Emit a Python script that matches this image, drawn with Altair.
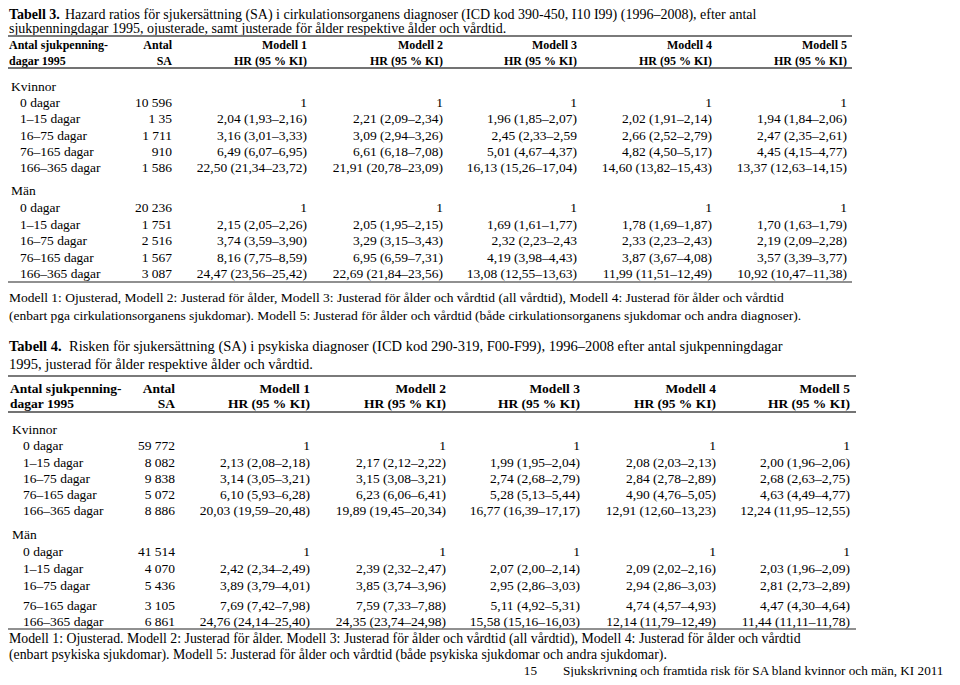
import altair as alt
import pandas as pd

# ---------------- data ----------------
row_labels = ["0 dagar", "1–15 dagar", "16–75 dagar", "76–165 dagar", "166–365 dagar"]
model_headers = ["Modell 1", "Modell 2", "Modell 3", "Modell 4", "Modell 5"]
hr_header = "HR (95 % KI)"

t3_title_bold = "Tabell 3."
t3_title_1 = "Hazard ratios för sjukersättning (SA) i cirkulationsorganens diagnoser (ICD kod 390-450, I10 I99) (1996–2008), efter antal"
t3_title_2 = "sjukpenningdagar 1995, ojusterade, samt justerade för ålder respektive ålder och vårdtid."

t3_kv_sa = ["10 596", "1 35", "1 711", "910", "1 586"]
t3_kv_m1 = ["1", "2,04 (1,93–2,16)", "3,16 (3,01–3,33)", "6,49 (6,07–6,95)", "22,50 (21,34–23,72)"]
t3_kv_m2 = ["1", "2,21 (2,09–2,34)", "3,09 (2,94–3,26)", "6,61 (6,18–7,08)", "21,91 (20,78–23,09)"]
t3_kv_m3 = ["1", "1,96 (1,85–2,07)", "2,45 (2,33–2,59", "5,01 (4,67–4,37)", "16,13 (15,26–17,04)"]
t3_kv_m4 = ["1", "2,02 (1,91–2,14)", "2,66 (2,52–2,79)", "4,82 (4,50–5,17)", "14,60 (13,82–15,43)"]
t3_kv_m5 = ["1", "1,94 (1,84–2,06)", "2,47 (2,35–2,61)", "4,45 (4,15–4,77)", "13,37 (12,63–14,15)"]

t3_man_sa = ["20 236", "1 751", "2 516", "1 567", "3 087"]
t3_man_m1 = ["1", "2,15 (2,05–2,26)", "3,74 (3,59–3,90)", "8,16 (7,75–8,59)", "24,47 (23,56–25,42)"]
t3_man_m2 = ["1", "2,05 (1,95–2,15)", "3,29 (3,15–3,43)", "6,95 (6,59–7,31)", "22,69 (21,84–23,56)"]
t3_man_m3 = ["1", "1,69 (1,61–1,77)", "2,32 (2,23–2,43", "4,19 (3,98–4,43)", "13,08 (12,55–13,63)"]
t3_man_m4 = ["1", "1,78 (1,69–1,87)", "2,33 (2,23–2,43)", "3,87 (3,67–4,08)", "11,99 (11,51–12,49)"]
t3_man_m5 = ["1", "1,70 (1,63–1,79)", "2,19 (2,09–2,28)", "3,57 (3,39–3,77)", "10,92 (10,47–11,38)"]

t3_note_1 = "Modell 1: Ojusterad, Modell 2: Justerad för ålder, Modell 3: Justerad för ålder och vårdtid (all vårdtid), Modell 4: Justerad för ålder och vårdtid"
t3_note_2 = "(enbart pga cirkulationsorganens sjukdomar). Modell 5: Justerad för ålder och vårdtid (både cirkulationsorganens sjukdomar och andra diagnoser)."

t4_title_bold = "Tabell 4."
t4_title_1 = "Risken för sjukersättning (SA) i psykiska diagnoser (ICD kod 290-319, F00-F99), 1996–2008 efter antal sjukpenningdagar"
t4_title_2 = "1995, justerad för ålder respektive ålder och vårdtid."

t4_kv_sa = ["59 772", "8 082", "9 838", "5 072", "8 886"]
t4_kv_m1 = ["1", "2,13 (2,08–2,18)", "3,14 (3,05–3,21)", "6,10 (5,93–6,28)", "20,03 (19,59–20,48)"]
t4_kv_m2 = ["1", "2,17 (2,12–2,22)", "3,15 (3,08–3,21)", "6,23 (6,06–6,41)", "19,89 (19,45–20,34)"]
t4_kv_m3 = ["1", "1,99 (1,95–2,04)", "2,74 (2,68–2,79)", "5,28 (5,13–5,44)", "16,77 (16,39–17,17)"]
t4_kv_m4 = ["1", "2,08 (2,03–2,13)", "2,84 (2,78–2,89)", "4,90 (4,76–5,05)", "12,91 (12,60–13,23)"]
t4_kv_m5 = ["1", "2,00 (1,96–2,06)", "2,68 (2,63–2,75)", "4,63 (4,49–4,77)", "12,24 (11,95–12,55)"]

t4_man_sa = ["41 514", "4 070", "5 436", "3 105", "6 861"]
t4_man_m1 = ["1", "2,42 (2,34–2,49)", "3,89 (3,79–4,01)", "7,69 (7,42–7,98)", "24,76 (24,14–25,40)"]
t4_man_m2 = ["1", "2,39 (2,32–2,47)", "3,85 (3,74–3,96)", "7,59 (7,33–7,88)", "24,35 (23,74–24,98)"]
t4_man_m3 = ["1", "2,07 (2,00–2,14)", "2,95 (2,86–3,03)", "5,11 (4,92–5,31)", "15,58 (15,16–16,03)"]
t4_man_m4 = ["1", "2,09 (2,02–2,16)", "2,94 (2,86–3,03)", "4,74 (4,57–4,93)", "12,14 (11,79–12,49)"]
t4_man_m5 = ["1", "2,03 (1,96–2,09)", "2,81 (2,73–2,89)", "4,47 (4,30–4,64)", "11,44 (11,11–11,78)"]

t4_note_1 = "Modell 1: Ojusterad. Modell 2: Justerad för ålder. Modell 3: Justerad för ålder och vårdtid (all vårdtid), Modell 4: Justerad för ålder och vårdtid"
t4_note_2 = "(enbart psykiska sjukdomar). Modell 5: Justerad för ålder och vårdtid (både psykiska sjukdomar och andra sjukdomar)."

page_number = "15"
footer_text = "Sjukskrivning och framtida risk för SA bland kvinnor och män, KI 2011"

# ---------------- layout ----------------
FONT = "Liberation Serif"
items = []


def add(text, x, y, style, size):
    items.append({"text": text, "x": x, "y": y, "style": style, "size": size})


def table(title_ys, title_bold, title_1, title_2, bold_w, title_size, header_size,
          group_labels, groups, col_right, label_x, sub_x, row_ys,
          note_1, note_2, note_ys, note_size):
    add(title_bold, 9, title_ys[0], "bold_left", title_size)
    add(title_1, 9 + bold_w, title_ys[0], "left", title_size)
    add(title_2, 9, title_ys[1], "left", title_size)
    hy1, hy2 = row_ys["header"]
    add("Antal sjukpenning-", label_x, hy1, "bold_left", header_size)
    add("dagar 1995", label_x, hy2, "bold_left", header_size)
    add("Antal", col_right[0], hy1, "bold_right", header_size)
    add("SA", col_right[0], hy2, "bold_right", header_size)
    for j, h in enumerate(model_headers):
        add(h, col_right[j + 1], hy1, "bold_right", header_size)
        add(hr_header, col_right[j + 1], hy2, "bold_right", header_size)
    for g, (glabel, cols) in enumerate(zip(group_labels, groups)):
        ys = row_ys["groups"][g]
        add(glabel, label_x + 2, ys[0], "left", 13.5)
        for i, lab in enumerate(row_labels):
            add(lab, sub_x, ys[i + 1], "left", 13.5)
            for c, col in enumerate(cols):
                add(col[i], col_right[c], ys[i + 1], "right", 13.5)
    add(note_1, 9, note_ys[0], "left", note_size)
    add(note_2, 9, note_ys[1], "left", note_size)


table(
    (14.5, 29), t3_title_bold, t3_title_1, t3_title_2, 56, 14, 12,
    ["Kvinnor", "Män"],
    [[t3_kv_sa, t3_kv_m1, t3_kv_m2, t3_kv_m3, t3_kv_m4, t3_kv_m5],
     [t3_man_sa, t3_man_m1, t3_man_m2, t3_man_m3, t3_man_m4, t3_man_m5]],
    [172, 307, 443, 577, 712, 847], 9, 20,
    {"header": (45, 61),
     "groups": [[87, 103, 119, 136, 152, 168], [191, 208, 225, 241, 257.5, 273.5]]},
    t3_note_1, t3_note_2, (298, 316), 13.5,
)
table(
    (347, 365), t4_title_bold, t4_title_1, t4_title_2, 60, 14.5, 13.5,
    ["Kvinnor", "Män"],
    [[t4_kv_sa, t4_kv_m1, t4_kv_m2, t4_kv_m3, t4_kv_m4, t4_kv_m5],
     [t4_man_sa, t4_man_m1, t4_man_m2, t4_man_m3, t4_man_m4, t4_man_m5]],
    [175, 310, 446, 580, 716, 850], 10, 23,
    {"header": (388.5, 403.5),
     "groups": [[430, 446, 462.5, 479, 495, 511], [535, 552, 569, 585.5, 606, 622]]},
    t4_note_1, t4_note_2, (639, 655), 13.8,
)
add(page_number, 537, 670.5, "right", 13.2)
add(footer_text, 563, 670.5, "left", 13.2)

df = pd.DataFrame(items)

W, H = 944, 669
xs = alt.Scale(domain=[8, 8 + W], nice=False, zero=False)
ys = alt.Scale(domain=[8, 8 + H], nice=False, zero=False, reverse=True)

base = alt.Chart(df).encode(
    x=alt.X("x:Q", scale=xs, axis=None),
    y=alt.Y("y:Q", scale=ys, axis=None),
    text="text:N",
    size=alt.Size("size:Q", scale=None, legend=None),
)

styles = {
    "left": dict(align="left", fontWeight="normal"),
    "right": dict(align="right", fontWeight="normal"),
    "bold_left": dict(align="left", fontWeight="bold"),
    "bold_right": dict(align="right", fontWeight="bold"),
}
layers = []
for name, st in styles.items():
    layers.append(
        base.transform_filter(alt.datum.style == name).mark_text(
            font=FONT, baseline="middle", color="#000000", **st
        )
    )

# horizontal rules (image pixel coordinates minus page margin)
rules_spec = [
    # (x1, x2, y, width, color)
    (8, 852, 36, 2.2, "#7a7a7a"),
    (8, 852, 68, 1.5, "#444444"),
    (8, 852, 282, 1.2, "#222222"),
    (8, 856, 376, 2.2, "#7a7a7a"),
    (8, 856, 412, 1.5, "#444444"),
    (8, 856, 629, 1.2, "#222222"),
]
for x1, x2, y, w, c in rules_spec:
    layers.append(
        alt.Chart(pd.DataFrame({"a": [0]})).mark_rule(strokeWidth=w, color=c).encode(
            x=alt.value(x1 - 8), x2=alt.value(x2 - 8), y=alt.value(y - 8)
        )
    )

chart = alt.layer(*layers).properties(
    width=W, height=H, autosize="none", padding=0
).configure_view(stroke=None)

chart.save("out.html", embed_options={"renderer": "svg", "actions": False})
